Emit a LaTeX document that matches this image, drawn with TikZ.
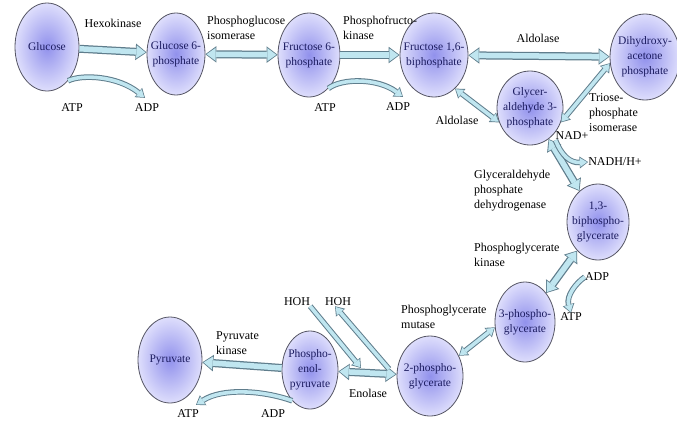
\documentclass[tikz,border=0pt]{standalone}
\usepackage{fontspec}
\setmainfont{Liberation Serif}
\usetikzlibrary{shapes.geometric,arrows.meta}

\definecolor{rim}{RGB}{85,85,100}
\definecolor{coreblue}{RGB}{145,145,236}
\definecolor{edgeblue}{RGB}{222,222,252}
\definecolor{inkblue}{RGB}{28,28,96}
\definecolor{flowline}{RGB}{95,125,140}
\definecolor{flowfill}{RGB}{192,230,240}

\tikzset{
	stage/.style={ellipse, draw=rim, line width=0.8pt, inner sep=0pt, inner color=coreblue, outer color=edgeblue},
	stagetext/.style={text=inkblue, align=center, inner sep=0pt, font=\rmfamily\fontsize{11.5}{15}\selectfont},
	enzyme/.style={align=left, anchor=west, inner sep=0pt, font=\rmfamily\fontsize{12}{15}\selectfont},
	cofac/.style={inner sep=0pt, font=\rmfamily\fontsize{12}{15}\selectfont},
	flow/.style={draw=flowfill, line width=5.5pt, shorten >=1.2pt,
		-{Triangle[length=9pt,width=13pt,line width=0pt]},
		preaction={draw=flowline, line width=8pt, shorten >=0pt,
		-{Triangle[length=11pt,width=16.5pt,line width=0pt]}}},
	flowboth/.style={draw=flowfill, line width=5.5pt, shorten >=1.2pt, shorten <=1.2pt,
		{Triangle[length=9pt,width=13pt,line width=0pt]}-{Triangle[length=9pt,width=13pt,line width=0pt]},
		preaction={draw=flowline, line width=8pt, shorten >=0pt, shorten <=0pt,
		{Triangle[length=11pt,width=16.5pt,line width=0pt]}-{Triangle[length=11pt,width=16.5pt,line width=0pt]}}},
	thinboth/.style={draw=flowfill, line width=3.6pt, shorten >=1pt, shorten <=1pt,
		{Triangle[length=7pt,width=9pt,line width=0pt]}-{Triangle[length=7pt,width=9pt,line width=0pt]},
		preaction={draw=flowline, line width=5.6pt, shorten >=0pt, shorten <=0pt,
		{Triangle[length=8.5pt,width=12pt,line width=0pt]}-{Triangle[length=8.5pt,width=12pt,line width=0pt]}}},
	thinflow/.style={draw=flowfill, line width=3.6pt, shorten >=1pt,
		-{Triangle[length=7pt,width=9pt,line width=0pt]},
		preaction={draw=flowline, line width=5.6pt, shorten >=0pt,
		-{Triangle[length=8.5pt,width=12pt,line width=0pt]}}},
	cofflow/.style={thinflow}
}

\begin{document}
\begin{tikzpicture}[x=1pt,y=1pt]
	\path[use as bounding box, fill=white] (0,0) rectangle (677,-424);
	% stages of the pathway
	\node[stage, minimum width=64pt, minimum height=88pt] (glu) at (47,-47) {};
	\node[stage, minimum width=58pt, minimum height=82pt] (g6p) at (176,-54) {};
	\node[stage, minimum width=62pt, minimum height=84pt] (f6p) at (309,-55) {};
	\node[stage, minimum width=68pt, minimum height=84pt] (fbp) at (434,-55) {};
	\node[stage, minimum width=70pt, minimum height=86pt] (dhap) at (645,-57) {};
	\node[stage, minimum width=66pt, minimum height=74pt] (gap) at (530,-108) {};
	\node[stage, minimum width=62pt, minimum height=76pt] (bpg) at (598,-222) {};
	\node[stage, minimum width=60pt, minimum height=80pt] (pg3) at (525,-322) {};
	\node[stage, minimum width=66pt, minimum height=80pt] (pg2) at (430,-376) {};
	\node[stage, minimum width=56pt, minimum height=78pt] (pep) at (310,-370) {};
	\node[stage, minimum width=64pt, minimum height=86pt] (pyr) at (170,-360) {};
	\node[stagetext] (glu-t) at (glu) {Glucose};
	\node[stagetext] (g6p-t) at (g6p) {Glucose 6-\\phosphate};
	\node[stagetext] (f6p-t) at (f6p) {Fructose 6-\\phosphate};
	\node[stagetext] (fbp-t) at (fbp) {Fructose 1,6-\\biphosphate};
	\node[stagetext] (dhap-t) at (dhap) {Dihydroxy-\\acetone\\phosphate};
	\node[stagetext] (gap-t) at (gap) {Glycer-\\aldehyde 3-\\phosphate};
	\node[stagetext] (bpg-t) at (bpg) {1,3-\\biphospho-\\glycerate};
	\node[stagetext] (pg3-t) at (pg3) {3-phospho-\\glycerate};
	\node[stagetext] (pg2-t) at (pg2) {2-phospho-\\glycerate};
	\node[stagetext] (pep-t) at (pep) {Phospho-\\enol-\\pyruvate};
	\node[stagetext] (pyr-t) at (pyr) {Pyruvate};
	% enzymes and cofactors
	\node[enzyme, anchor=center] (hexo) at (113,-23) {Hexokinase};
	\node[enzyme] (pgi) at (207,-28) {Phosphoglucose\\isomerase};
	\node[enzyme] (pfk) at (343,-28) {Phosphofructo-\\kinase};
	\node[enzyme, anchor=center] (ald1) at (538,-38) {Aldolase};
	\node[enzyme, anchor=center] (ald2) at (457,-120) {Aldolase};
	\node[enzyme] (tpi) at (589,-113) {Triose-\\phosphate\\isomerase};
	\node[enzyme] (gapdh) at (474,-191) {Glyceraldehyde\\phosphate\\dehydrogenase};
	\node[enzyme] (pgk) at (474,-255) {Phosphoglycerate\\kinase};
	\node[enzyme] (pgm) at (401,-317) {Phosphoglycerate\\mutase};
	\node[enzyme] (pk) at (216,-343) {Pyruvate\\kinase};
	\node[cofac] (eno) at (368,-393) {Enolase};
	\node[cofac] (atp1) at (72,-108) {ATP};
	\node[cofac] (adp1) at (147,-108) {ADP};
	\node[cofac] (atp2) at (325,-108) {ATP};
	\node[cofac] (adp2) at (398,-107) {ADP};
	\node[cofac] (nad) at (572,-136) {NAD+};
	\node[cofac] (nadh) at (615,-162) {NADH/H+};
	\node[cofac] (adp3) at (597,-277) {ADP};
	\node[cofac] (atp3) at (571,-317) {ATP};
	\node[cofac] (hoh1) at (297,-302) {HOH};
	\node[cofac] (hoh2) at (338,-302) {HOH};
	\node[cofac] (atp4) at (188,-414) {ATP};
	\node[cofac] (adp4) at (273,-414) {ADP};
	\coordinate (eno-in) at (361,-368);
	\coordinate (eno-out) at (389,-369);
	% main flow
	\draw[flow] (glu) -- (g6p);
	\draw[flowboth] (g6p) -- (f6p);
	\draw[flow] (f6p) -- (fbp);
	\draw[flowboth] (fbp) -- (dhap);
	\draw[thinboth] (fbp.-58) -- (gap.-155);
	\draw[thinboth] (dhap.-170) -- (gap.-25);
	\draw[flowboth] (gap) -- (bpg);
	\draw[flowboth] (bpg) -- (pg3);
	\draw[thinboth] (pg3.190) -- (pg2.35);
	\draw[flowboth] (pg2) -- (pep);
	\draw[flow] (pep) -- (pyr);
	% side reactions
	\draw[cofflow] (glu.-58) .. controls (82,-74) and (118,-76) .. ([xshift=-2pt,yshift=6pt]adp1.north);
	\draw[cofflow] (f6p.-60) .. controls (342,-78) and (378,-78) .. ([xshift=5pt,yshift=6pt]adp2.north);
	\draw[cofflow] (nad.south west) .. controls (562,-156) and (570,-163) .. (nadh.west);
	\draw[cofflow] (adp3.west) .. controls (576,-283) and (566,-296) .. (atp3.north);
	\draw[cofflow] (pep.-120) .. controls (262,-390) and (222,-388) .. ([xshift=8pt,yshift=5pt]atp4.north);
	\draw[thinflow] (hoh1.south east) -- (eno-in);
	\draw[thinflow] (eno-out) -- ([xshift=-3pt]hoh2.south);
\end{tikzpicture}
\end{document}
